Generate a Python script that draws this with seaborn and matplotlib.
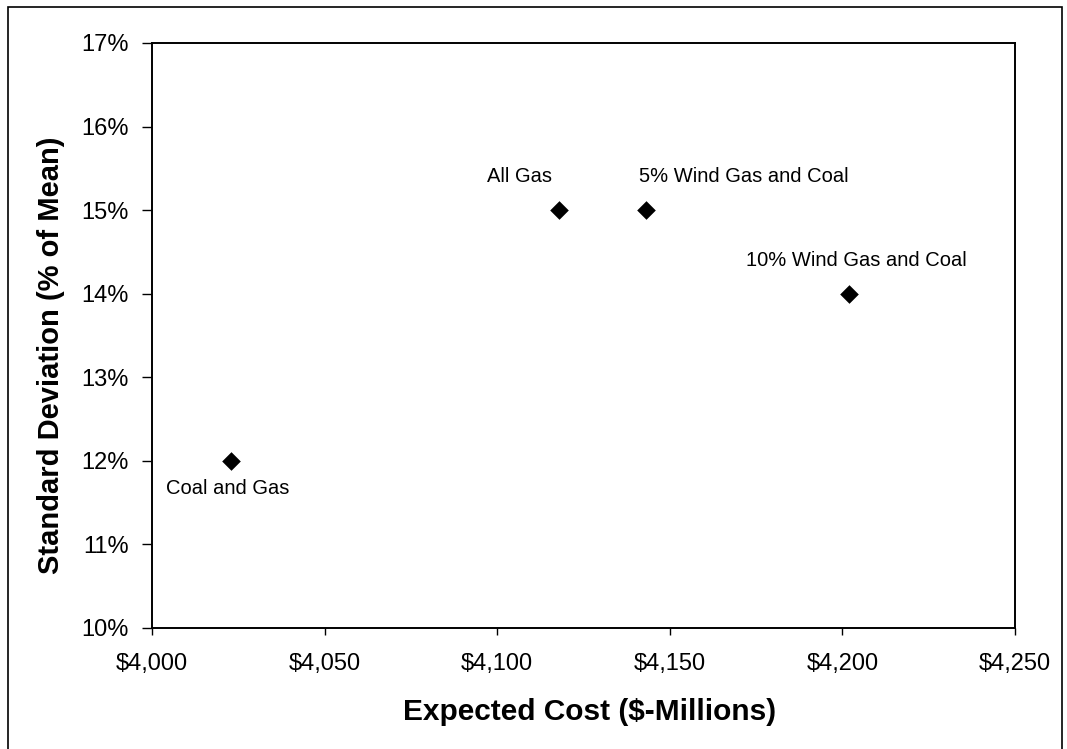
import matplotlib
matplotlib.use("Agg")
import matplotlib.pyplot as plt
import seaborn as sns
import pandas as pd
from matplotlib.ticker import FuncFormatter, MultipleLocator
from matplotlib.patches import Rectangle

# data
portfolios = ["Coal and Gas", "All Gas", "5% Wind Gas and Coal", "10% Wind Gas and Coal"]
expected_cost = [4023, 4118, 4143, 4202]      # $-millions
std_dev_pct = [12, 15, 15, 14]                 # % of mean

# label offsets (points) relative to each marker
label_offsets = [(-3, -20), (-29, 24), (71, 24), (5, 24)]

df = pd.DataFrame({"cost": expected_cost, "std": std_dev_pct, "name": portfolios})

sns.set_style("white")
plt.rcParams["font.family"] = ["Liberation Sans", "DejaVu Sans"]
plt.rcParams["text.color"] = "black"
plt.rcParams["axes.labelcolor"] = "black"

fig = plt.figure(figsize=(10.67, 7.49), dpi=100)
ax = fig.add_axes([152 / 1067, 1 - 628 / 749, (1015 - 152) / 1067, (628 - 43) / 749])

sns.scatterplot(data=df, x="cost", y="std", marker="D", s=90, color="black",
                edgecolor="black", linewidth=0, ax=ax, zorder=3)

for (name, x, y), off in zip(zip(portfolios, expected_cost, std_dev_pct), label_offsets):
    ax.annotate(name, (x, y), xytext=off, textcoords="offset points",
                ha="center", va="center", fontsize=14.5, color="black")

ax.set_xlim(4000, 4250)
ax.set_ylim(10, 17)
ax.xaxis.set_major_locator(MultipleLocator(50))
ax.yaxis.set_major_locator(MultipleLocator(1))
ax.xaxis.set_major_formatter(FuncFormatter(lambda v, p: f"${v:,.0f}"))
ax.yaxis.set_major_formatter(FuncFormatter(lambda v, p: f"{v:.0f}%"))

ax.tick_params(axis="y", direction="out", length=7, width=1, pad=10,
               labelsize=17, left=True, colors="black")
ax.tick_params(axis="x", direction="out", length=5, width=1, pad=13,
               labelsize=17, bottom=True, colors="black")

for sp in ax.spines.values():
    sp.set_visible(True)
    sp.set_color("black")
    sp.set_linewidth(1.4)

ax.set_xlabel("Expected Cost ($-Millions)", fontsize=21.5, fontweight="bold")
ax.set_ylabel("Standard Deviation (% of Mean)", fontsize=21, fontweight="bold")
ax.xaxis.set_label_coords(0.5075, -0.1197)
ax.xaxis.label.set_va("top")
ax.yaxis.set_label_coords(-0.1008, 0.466)

# outer frame around the whole chart
fig.patches.append(Rectangle((8 / 1067, -0.05), (1062 - 8) / 1067, 1 - 7 / 749 + 0.05,
                             transform=fig.transFigure, fill=False,
                             edgecolor="black", linewidth=1.2))

fig.savefig("out.png", dpi=100)
plt.close(fig)
